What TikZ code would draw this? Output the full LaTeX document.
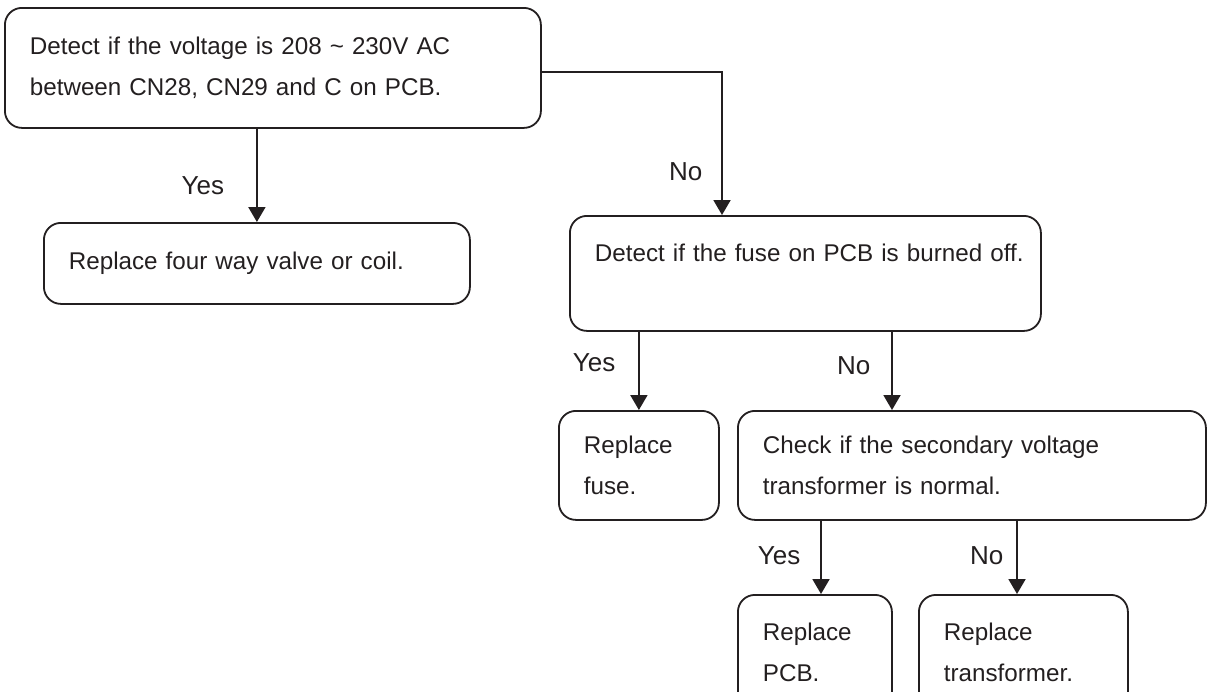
\documentclass[tikz,border=0pt]{standalone}
\usepackage{fontspec}
\setmainfont{Liberation Sans}
\usepackage{tikz}
\usetikzlibrary{arrows.meta,positioning,calc}
\definecolor{fltInk}{HTML}{231F20}
\tikzset{
  fltbox/.style={rounded corners=8.5pt, draw=fltInk, line width=0.9pt, align=left,
                 anchor=north west, inner xsep=12.5pt, inner ysep=0pt, text=fltInk,
                 font=\fontsize{12.1}{20.5}\selectfont},
  fltarr/.style={-{Triangle[length=7.5pt,width=8.5pt]}, line width=1pt, draw=fltInk},
  fltlbl/.style={font=\fontsize{13}{15}\selectfont, text=fltInk},
}

\begin{document}
\begin{tikzpicture}[x=0.5pt, y=-0.5pt]
    \useasboundingbox (0,0) rectangle (1208,691);
    \clip (0,0) rectangle (1208,691);
    \node[fltbox, text width=243pt, minimum height=60pt] (volt) at (4,7)
      {Detect if the voltage is 208 \textasciitilde{} 230V AC\\between CN28, CN29 and C on PCB.};
    \node[fltbox, text width=188pt, minimum height=40.5pt] (valve) at (43,222)
      {Replace four way valve or coil.};
    \node[fltbox, text width=210.5pt, minimum height=57.5pt] (fuse) at (569,215)
      {\mbox{Detect if the fuse on PCB is burned off.}\\ \mbox{}};
    \node[fltbox, text width=55pt, minimum height=54.5pt] (repfuse) at (558,410)
      {Replace\\fuse.};
    \node[fltbox, text width=209pt, minimum height=54.5pt] (trans) at (737,410)
      {Check if the secondary voltage\\transformer is normal.};
    \node[fltbox, text width=52pt, minimum height=57.5pt] (reppcb) at (737,594)
      {Replace\\PCB.};
    \node[fltbox, text width=79.5pt, minimum height=57.5pt] (reptrans) at (918,594)
      {Replace\\transformer.};
    \coordinate (fuseIn) at ($(fuse.north west)+(153,0)$);
    \coordinate (transIn) at ($(trans.north west)+(155,0)$);
    \coordinate (pcbIn) at ($(reppcb.north west)+(84,0)$);
    \coordinate (rtIn) at ($(reptrans.north west)+(99,0)$);
    \draw[fltarr] ([yshift=-2pt]volt.east) -| (fuseIn) node[fltlbl, pos=0.85, left=6pt] {No};
    \draw[fltarr] (volt.south -| valve.north) -- (valve.north) node[fltlbl, pos=0.61, left=12.6pt] {Yes};
    \draw[fltarr] (fuse.south -| repfuse.north) -- (repfuse.north) node[fltlbl, pos=0.4, left=8pt] {Yes};
    \draw[fltarr] (fuse.south -| transIn) -- (transIn) node[fltlbl, pos=0.43, left=7pt] {No};
    \draw[fltarr] (trans.south -| pcbIn) -- (pcbIn) node[fltlbl, pos=0.48, left=6.5pt] {Yes};
    \draw[fltarr] (trans.south -| rtIn) -- (rtIn) node[fltlbl, pos=0.48, left=3pt] {No};
\end{tikzpicture}
\end{document}
